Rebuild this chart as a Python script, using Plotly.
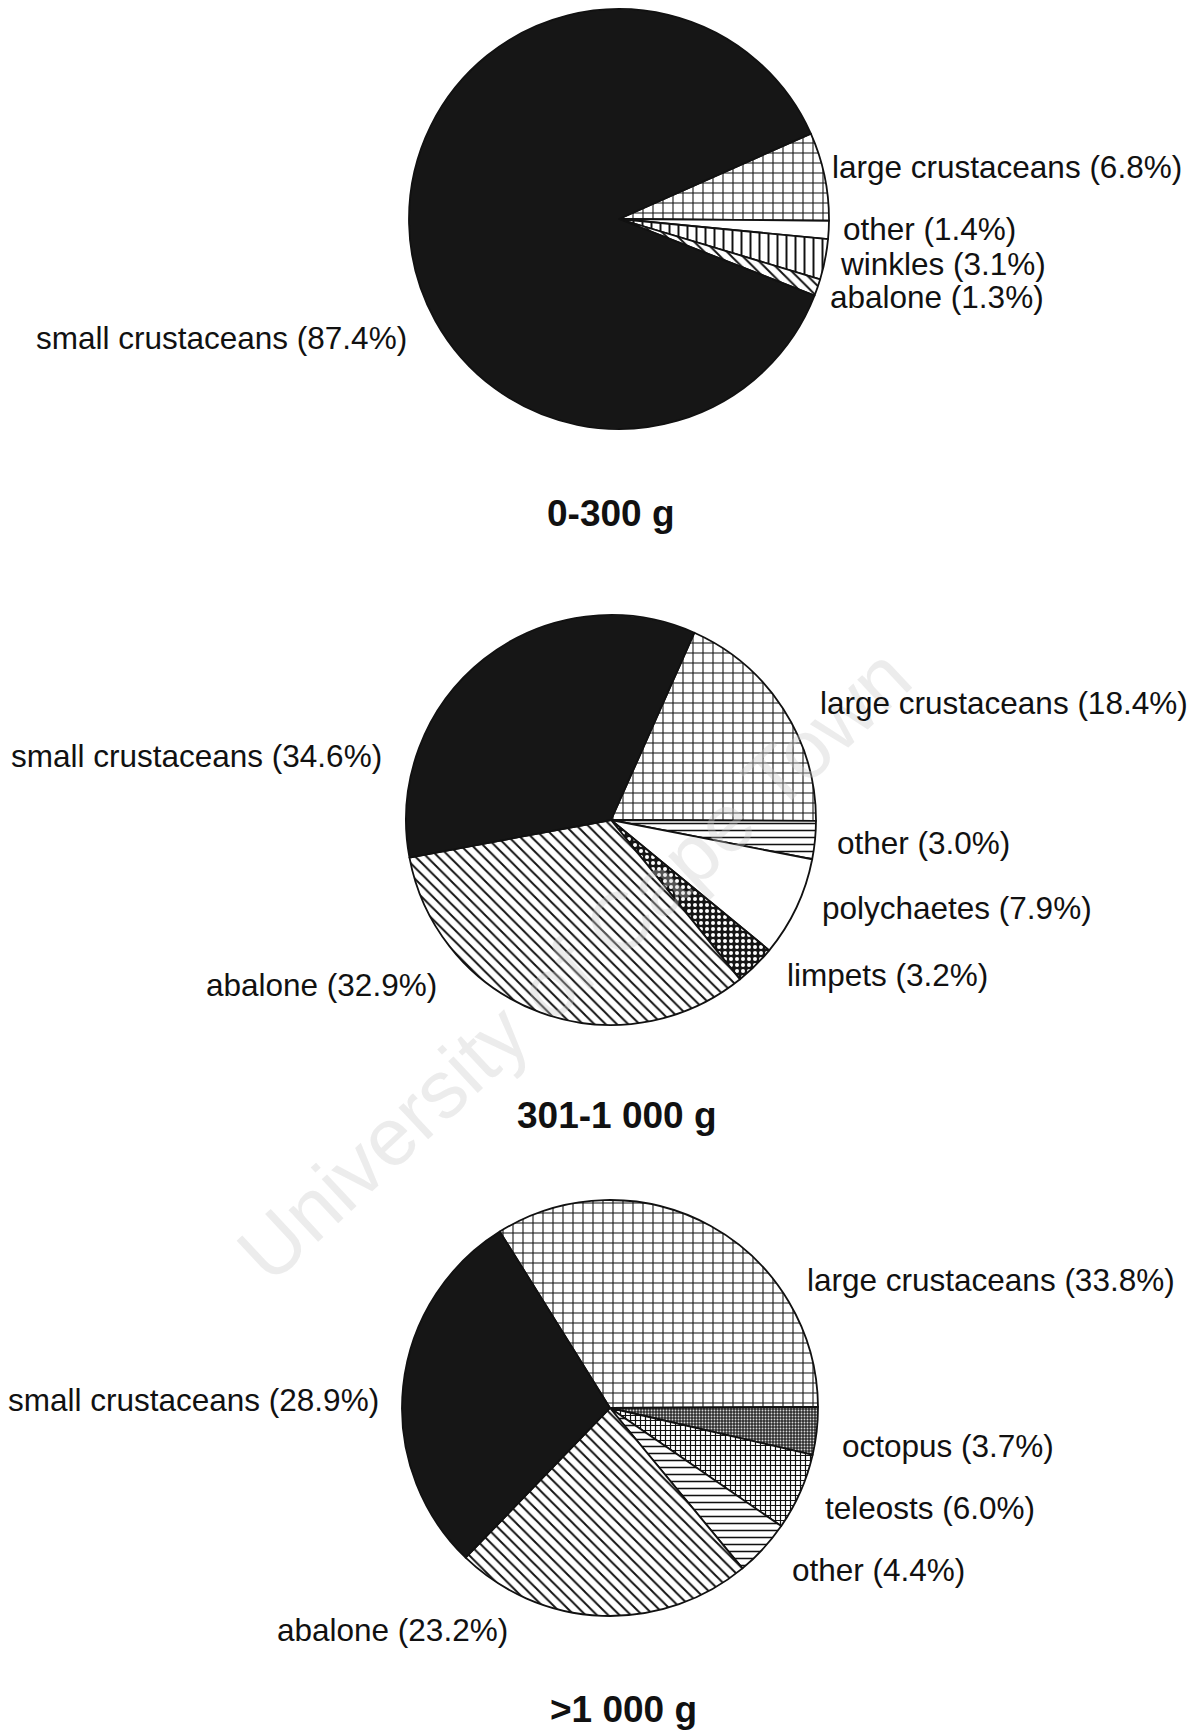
"""Diet composition by size class: three patterned pie charts."""
import plotly.graph_objects as go

W, H = 1196, 1724
OFF = 8  # default body margin of the html page

# ---- data -------------------------------------------------------------
PIE1_TITLE = "0-300 g"
PIE1_CATS = ["large crustaceans", "other", "winkles", "abalone", "small crustaceans"]
PIE1_VALUES = [6.8, 1.4, 3.1, 1.3, 87.4]

PIE2_TITLE = "301-1 000 g"
PIE2_CATS = ["large crustaceans", "other", "polychaetes", "limpets", "abalone",
             "small crustaceans"]
PIE2_VALUES = [18.4, 3.0, 7.9, 3.2, 32.9, 34.6]

PIE3_TITLE = ">1 000 g"
PIE3_CATS = ["large crustaceans", "octopus", "teleosts", "other", "abalone",
             "small crustaceans"]
PIE3_VALUES = [33.8, 3.7, 6.0, 4.4, 23.2, 28.9]

# ---- styles -----------------------------------------------------------
# (shape, size, solidity, fg, bg)
STYLE = {
    "large crustaceans": ("+", 10, 0.2, "#111", "white"),
    "other": ("", 8, 0.2, "#111", "white"),
    "winkles": ("|", 9, 0.22, "#111", "white"),
    "abalone": ("\\", 8, 0.24, "#111", "white"),
    "small crustaceans": ("", 8, 0.2, "#111", "#161616"),
    "polychaetes": ("", 8, 0.2, "#111", "white"),
    "limpets": (".", 6, 0.35, "white", "#161616"),
    "octopus": (".", 3, 0.3, "#d8d8d8", "#2e2e2e"),
    "teleosts": ("+", 5, 0.42, "#111", "white"),
}
OTHER_LINES = ("-", 7, 0.22, "#111", "white")

FONT = "Liberation Sans, Arial, sans-serif"


def px(x):
    return (x - OFF) / W


def py(y):
    return 1 - (y - OFF) / H


def domain(cx, cy, r):
    clamp = lambda v: min(1.0, max(0.0, v))
    return {"x": [clamp(px(cx - r)), clamp(px(cx + r))],
            "y": [clamp(py(cy + r)), clamp(py(cy - r))]}


def pie(cats, values, cx, cy, r, rotation, other_style=None):
    styles = []
    for c in cats:
        s = STYLE[c]
        if c == "other" and other_style is not None:
            s = other_style
        styles.append(s)
    colors = [s[4] if s[0] == "" else "white" for s in styles]
    return go.Pie(
        labels=cats,
        values=values,
        sort=False,
        direction="clockwise",
        rotation=rotation,
        textinfo="none",
        hoverinfo="label+value",
        showlegend=False,
        domain=domain(cx, cy, r),
        marker={
            "colors": colors,
            "line": {"color": "#111", "width": 1.8},
            "pattern": {
                "shape": [s[0] for s in styles],
                "size": [s[1] for s in styles],
                "solidity": [s[2] for s in styles],
                "fgcolor": [s[3] for s in styles],
                "bgcolor": [s[4] for s in styles],
                "fillmode": "replace",
            },
        },
    )


fig = go.Figure()
fig.add_trace(pie(PIE1_CATS, PIE1_VALUES, 619, 219, 210, 66))
fig.add_trace(pie(PIE2_CATS, PIE2_VALUES, 611, 820, 205, 24, OTHER_LINES))
fig.add_trace(pie(PIE3_CATS, PIE3_VALUES, 610, 1408, 208, -32, OTHER_LINES))


def lab(cats, values, name):
    return f"{name} ({values[cats.index(name)]:.1f}%)"


annotations = []


def add_text(text, x, y, anchor="left", size=31.5, bold=False):
    if anchor == "left":
        x -= 2
    elif anchor == "right":
        x += 2
    annotations.append(dict(
        text=f"<b>{text}</b>" if bold else text,
        x=px(x), y=py(y), xref="paper", yref="paper",
        xanchor=anchor, yanchor="middle", showarrow=False,
        font={"family": FONT, "size": size, "color": "#111"}))


# watermark
annotations.append(dict(
    text="University of Cape Town", x=px(574), y=py(965),
    xref="paper", yref="paper", showarrow=False, textangle=-43,
    font={"family": FONT, "size": 82, "color": "rgba(200,200,200,0.35)"}))

# pie 1 labels
add_text(lab(PIE1_CATS, PIE1_VALUES, "large crustaceans"), 832, 167)
add_text(lab(PIE1_CATS, PIE1_VALUES, "other"), 843, 229)
add_text(lab(PIE1_CATS, PIE1_VALUES, "winkles"), 840, 264)
add_text(lab(PIE1_CATS, PIE1_VALUES, "abalone"), 830, 297)
add_text(lab(PIE1_CATS, PIE1_VALUES, "small crustaceans"), 407, 338, "right")
add_text(PIE1_TITLE, 611, 513, "center", 37, True)

# pie 2 labels
add_text(lab(PIE2_CATS, PIE2_VALUES, "large crustaceans"), 820, 703)
add_text(lab(PIE2_CATS, PIE2_VALUES, "small crustaceans"), 382, 756, "right")
add_text(lab(PIE2_CATS, PIE2_VALUES, "other"), 837, 843)
add_text(lab(PIE2_CATS, PIE2_VALUES, "polychaetes"), 822, 908)
add_text(lab(PIE2_CATS, PIE2_VALUES, "limpets"), 787, 975)
add_text(lab(PIE2_CATS, PIE2_VALUES, "abalone"), 437, 985, "right")
add_text(PIE2_TITLE, 617, 1115, "center", 37, True)

# pie 3 labels
add_text(lab(PIE3_CATS, PIE3_VALUES, "large crustaceans"), 807, 1280)
add_text(lab(PIE3_CATS, PIE3_VALUES, "small crustaceans"), 379, 1400, "right")
add_text(lab(PIE3_CATS, PIE3_VALUES, "octopus"), 842, 1446)
add_text(lab(PIE3_CATS, PIE3_VALUES, "teleosts"), 825, 1508)
add_text(lab(PIE3_CATS, PIE3_VALUES, "other"), 792, 1570)
add_text(lab(PIE3_CATS, PIE3_VALUES, "abalone"), 392, 1630, "center")
add_text(PIE3_TITLE, 623, 1709, "center", 37, True)

fig.update_layout(
    width=W, height=H,
    margin={"l": 0, "r": 0, "t": 0, "b": 0},
    paper_bgcolor="white",
    plot_bgcolor="white",
    annotations=annotations,
)

fig.write_html("out.html")
